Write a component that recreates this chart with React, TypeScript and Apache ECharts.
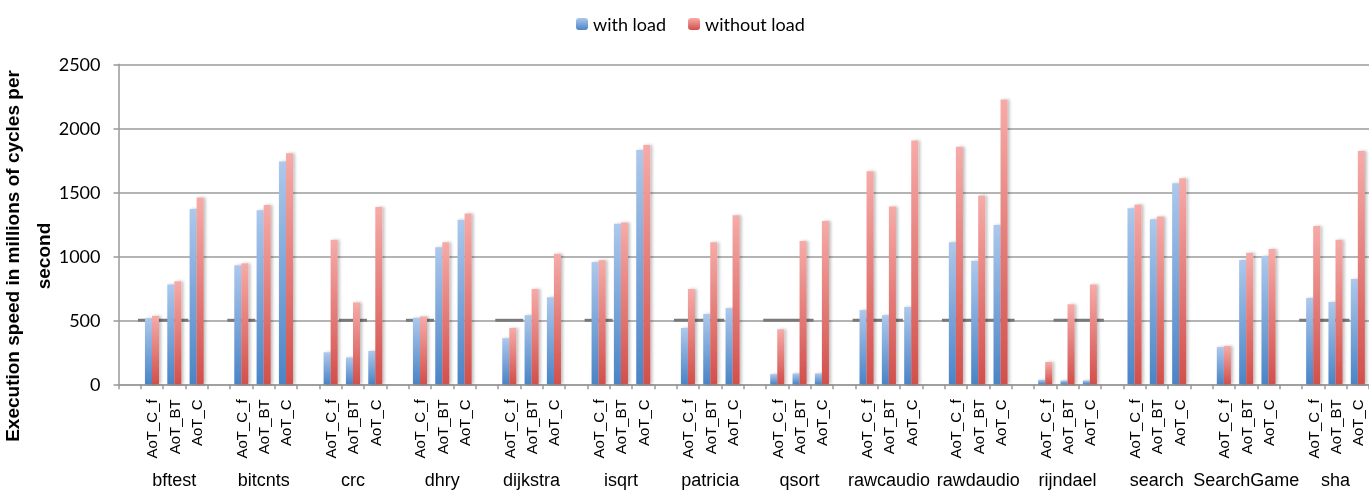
import React, { useEffect, useRef } from 'react';
import * as echarts from 'echarts';

const benchmarks = ['bftest', 'bitcnts', 'crc', 'dhry', 'dijkstra', 'isqrt', 'patricia', 'qsort', 'rawcaudio', 'rawdaudio', 'rijndael', 'search', 'SearchGame', 'sha'];
const variants = ['AoT_C_f', 'AoT_BT', 'AoT_C'];
const seriesNames = ['with load', 'without load'];

// values per benchmark: [AoT_C_f, AoT_BT, AoT_C]
const withLoad = [
  [515, 780, 1370],
  [930, 1360, 1740],
  [250, 210, 260],
  [520, 1070, 1285],
  [360, 540, 680],
  [955, 1255, 1830],
  [440, 550, 595],
  [80, 85, 85],
  [580, 540, 605],
  [1110, 965, 1245],
  [35, 30, 30],
  [1375, 1290, 1570],
  [291, 971, 1002],
  [674, 643, 823],
];
const withoutLoad = [
  [535, 805, 1460],
  [945, 1400, 1805],
  [1130, 640, 1385],
  [530, 1110, 1335],
  [440, 745, 1020],
  [970, 1265, 1870],
  [745, 1110, 1320],
  [430, 1120, 1275],
  [1665, 1390, 1905],
  [1855, 1475, 2225],
  [175, 625, 780],
  [1405, 1310, 1610],
  [299, 1028, 1057],
  [1237, 1130, 1823],
];
const yTicks = [0, 500, 1000, 1500, 2000, 2500];
const referenceLevel = 500;
// reference marks at the 500 level: [benchmark, first variant, last variant]
const referenceSpans = [
  ['bftest', 'AoT_C_f', 'AoT_BT'],
  ['bitcnts', 'AoT_C_f', 'AoT_C_f'],
  ['crc', 'AoT_BT', 'AoT_BT'],
  ['dhry', 'AoT_C_f', 'AoT_C_f'],
  ['dijkstra', 'AoT_C_f', 'AoT_C_f'],
  ['isqrt', 'AoT_C_f', 'AoT_C_f'],
  ['patricia', 'AoT_C_f', 'AoT_BT'],
  ['qsort', 'AoT_C_f', 'AoT_BT'],
  ['rawcaudio', 'AoT_C_f', 'AoT_BT'],
  ['rawdaudio', 'AoT_C_f', 'AoT_C'],
  ['rijndael', 'AoT_BT', 'AoT_C'],
  ['sha', 'AoT_C_f', 'AoT_BT'],
];

const slotVariants = ['', ...variants];
const slots = benchmarks.flatMap((b) => slotVariants.map((v) => b + '|' + v));

function slotValues(table: number[][]) {
  const out: (number | string)[] = [];
  benchmarks.forEach((_, bi) => {
    slotVariants.forEach((v) => {
      out.push(v === '' ? '-' : table[bi][variants.indexOf(v)]);
    });
  });
  return out;
}

function slotIndex(bench: string, variant: string) {
  return slots.indexOf(bench + '|' + variant);
}

export default function App() {
  const ref = useRef<HTMLDivElement>(null);

  useEffect(() => {
    if (!ref.current) return;
    const chart = echarts.init(ref.current, undefined, { renderer: 'svg' });

    const blue = new echarts.graphic.LinearGradient(0, 0, 0, 1, [
      { offset: 0, color: '#adc8ec' },
      { offset: 1, color: '#4a84c6' },
    ]);
    const red = new echarts.graphic.LinearGradient(0, 0, 0, 1, [
      { offset: 0, color: '#f6aba8' },
      { offset: 1, color: '#d24f4b' },
    ]);

    const refData = referenceSpans.map(([b, v1, v2]) => [slotIndex(b, v1), slotIndex(b, v2), referenceLevel]);

    chart.setOption({
      animation: false,
      legend: {
        data: seriesNames,
        top: 10,
        left: 571,
        itemWidth: 12,
        itemHeight: 12,
        itemGap: 22,
        textStyle: { fontFamily: 'Lato', fontSize: 18, color: '#000' },
      },
      grid: {
        left: 118.5,
        right: 0,
        top: 64.3,
        bottom: 106.7,
        containLabel: false,
        outerBoundsMode: 'none',
      },
      xAxis: [
        {
          type: 'category',
          data: slots,
          axisLine: { lineStyle: { color: '#999', width: 1.5 } },
          axisTick: { show: true, interval: 0, length: 5, lineStyle: { color: '#999', width: 1.5 } },
          axisLabel: {
            interval: 0,
            rotate: 90,
            margin: 15,
            fontFamily: 'Liberation Sans',
            fontSize: 15,
            color: '#000',
            formatter: (v: string) => v.split('|')[1],
          },
          splitLine: { show: false },
        },
        {
          type: 'category',
          data: slots,
          position: 'bottom',
          axisLine: { show: false },
          axisTick: { show: false },
          axisLabel: {
            interval: 0,
            margin: 87,
            fontFamily: 'Liberation Sans',
            fontSize: 18,
            color: '#000',
            formatter: (v: string) => {
              const [b, vv] = v.split('|');
              return vv === variants[1] ? b : '';
            },
          },
          splitLine: { show: false },
        },
      ],
      yAxis: {
        type: 'value',
        min: yTicks[0],
        max: yTicks[yTicks.length - 1],
        interval: yTicks[1] - yTicks[0],
        axisLine: { show: true, lineStyle: { color: '#999', width: 1.5 } },
        axisTick: { show: true, length: 5, lineStyle: { color: '#999', width: 1.5 } },
        axisLabel: { margin: 18, fontFamily: 'Lato', fontSize: 18, color: '#000', formatter: (v: number) => String(v) },
        splitLine: { lineStyle: { color: '#9b9b9b', width: 1.5 } },
      },
      graphic: [
        {
          type: 'text',
          x: 28,
          y: 256,
          rotation: Math.PI / 2,
          style: {
            text: 'Execution speed in millions of cycles per\nsecond',
            font: 'bold 19px "Liberation Sans"',
            fill: '#000',
            align: 'center',
            verticalAlign: 'middle',
            lineHeight: 31,
          },
        },
      ],
      series: [
        {
          type: 'custom',
          name: 'reference',
          z: 1,
          silent: true,
          encode: { x: [0, 1], y: 2 },
          data: refData,
          renderItem: (params: any, api: any) => {
            const p1 = api.coord([api.value(0), api.value(2)]);
            const p2 = api.coord([api.value(1), api.value(2)]);
            return {
              type: 'line',
              shape: { x1: p1[0] - 14, y1: p1[1], x2: p2[0] + 14, y2: p2[1] },
              style: { stroke: '#7a7a7a', lineWidth: 3 },
            };
          },
        },
        {
          type: 'bar',
          name: seriesNames[0],
          z: 2,
          data: slotValues(withLoad),
          barGap: '0%',
          barCategoryGap: '37%',
          itemStyle: { color: blue, shadowBlur: 3, shadowColor: 'rgba(0,0,0,0.25)', shadowOffsetX: 2, shadowOffsetY: 0 },
        },
        {
          type: 'bar',
          name: seriesNames[1],
          z: 2,
          data: slotValues(withoutLoad),
          barGap: '0%',
          barCategoryGap: '37%',
          itemStyle: { color: red, shadowBlur: 3, shadowColor: 'rgba(0,0,0,0.25)', shadowOffsetX: 2, shadowOffsetY: 0 },
        },
      ],
    });

    return () => chart.dispose();
  }, []);

  return <div ref={ref} style={{ position: 'fixed', left: 0, top: 0, width: 1369, height: 491 }} />;
}
